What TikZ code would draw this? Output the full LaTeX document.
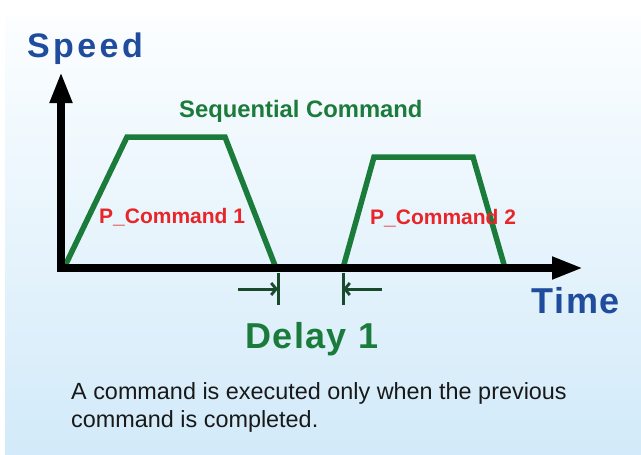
\documentclass[tikz,border=0pt]{standalone}
\usepackage{fontspec}
\setmainfont{Liberation Sans}
\newfontfamily\sbold[LetterSpace=10]{Liberation Sans Bold}
\newfontfamily\tbold[LetterSpace=5]{Liberation Sans Bold}
\newfontfamily\dbold[LetterSpace=4]{Liberation Sans Bold}
\usetikzlibrary{arrows.meta}
\definecolor{bgtop}{HTML}{FCFEFF}
\definecolor{bgbot}{HTML}{D2EAF9}
\definecolor{axisblue}{HTML}{1F4C9C}
\definecolor{curvegreen}{HTML}{1B7B3B}
\definecolor{markgreen}{HTML}{1A4A2C}
\definecolor{cmdred}{HTML}{E8262A}
\tikzset{
  axisline/.style={line width=7.5pt, -{Triangle[length=31pt,width=21pt]}},
  profile/.style={line width=5.5pt, curvegreen, line join=miter},
  marker/.style={line width=3pt, markgreen},
  markarrow/.style={marker, -{Straight Barb[length=5pt,width=12pt,line width=2.8pt]}},
  lbl/.style={inner sep=0pt, anchor=base west},
}
\begin{document}
\begin{tikzpicture}[x=1pt,y=-1pt]
\useasboundingbox (0,0) rectangle (641,455);
\shade[top color=bgtop, bottom color=bgbot] (5,15) rectangle (641,455);
% profiles
\draw[profile] (64,268) -- (127,137) -- (225,137) -- (276,268);
\draw[profile] (343,268) -- (374,157) -- (473,157) -- (505,268);
% axes
\coordinate (origin) at (61,268);
\coordinate (ytip) at (61,72);
\coordinate (xtip) at (583,268);
\draw[axisline] ([yshift=3.75pt]origin) -- (ytip);
\draw[axisline] ([xshift=-3.75pt]origin) -- (xtip);
% delay markers
\coordinate (t1a) at (278,273); \coordinate (t1b) at (278,305);
\coordinate (t2a) at (343,273); \coordinate (t2b) at (343,305);
\coordinate (a1) at (238,289); \coordinate (a2) at (382,289);
\draw[marker] (t1a) -- (t1b);
\draw[marker] (t2a) -- (t2b);
\draw[markarrow] (a1) -- (t1a |- a1);
\draw[markarrow] (a2) -- (t2a |- a2);
% labels
\node[lbl, text=axisblue, font=\sbold\fontsize{34}{40}\selectfont] (speed) at (27,57) {Speed};
\node[lbl, text=axisblue, font=\tbold\fontsize{36}{42}\selectfont] (time) at (531,313) {Time};
\node[lbl, text=curvegreen, font=\bfseries\fontsize{23.8}{28}\selectfont] (seq) at (179,117) {Sequential Command};
\node[lbl, text=cmdred, font=\bfseries\fontsize{21}{25}\selectfont] (pc1) at (99,223) {P\_Command 1};
\node[lbl, text=cmdred, font=\bfseries\fontsize{21}{25}\selectfont] (pc2) at (370,224) {P\_Command 2};
\node[lbl, text=curvegreen, font=\dbold\fontsize{36}{42}\selectfont] (delay) at (245,348) {Delay 1};
\node[lbl, text=black!90, font=\fontsize{23.4}{28}\selectfont] (note1) at (71,399) {A command is executed only when the previous};
\node[lbl, text=black!90, font=\fontsize{23.4}{28}\selectfont] (note2) at (71,427) {command is completed.};
\end{tikzpicture}
\end{document}
